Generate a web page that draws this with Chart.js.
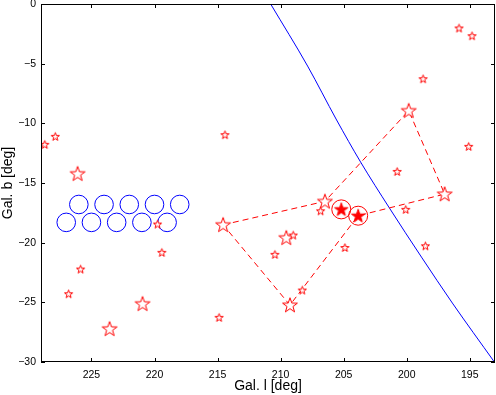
<!DOCTYPE html>
<html>
<head>
<meta charset="utf-8">
<script src="https://cdn.jsdelivr.net/npm/chart.js@4"></script>
<style>
  html, body { margin: 0; padding: 0; background: #fff; }
  #wrap { width: 496px; height: 395px; }
</style>
</head>
<body>
<div id="wrap"><canvas id="sky"></canvas></div>
<script>
// axis ticks
const xTicks = [225, 220, 215, 210, 205, 200, 195];
const yTicks = [-30, -25, -20, -15, -10, -5, 0];

// small stars
const smallL = [228.7, 227.87, 214.41, 195.85, 194.82, 198.7, 195.09, 200.76, 200.08, 198.52,
                206.83, 204.9, 209.0, 210.45, 208.28, 219.76, 219.42, 225.86, 226.81, 214.88];
const smallB = [-11.76, -11.09, -10.95, -2.01, -2.66, -6.26, -11.93, -14.03, -17.21, -20.26,
                -17.33, -20.4, -19.36, -20.98, -23.97, -18.44, -20.81, -22.21, -24.28, -26.26];

// big open stars
const bigL = [226.1, 199.84, 196.99, 214.56, 206.49, 209.55, 209.26, 220.95, 223.56];
const bigB = [-14.22, -8.94, -15.93, -18.5, -16.54, -19.59, -25.23, -25.12, -27.22];

// filled stars (circled)
const mainL = [205.19, 203.85];
const mainB = [-17.21, -17.74];

// dashed outline, closed
const outlineL = [214.56, 206.49, 199.84, 196.99, 203.85, 209.26, 214.56];
const outlineB = [-18.5, -16.54, -8.94, -15.93, -17.74, -25.23, -18.5];

// blue circles (two rows)
const ringL = [226, 224, 222, 220, 218, 227, 225, 223, 221, 219];
const ringB = [-16.8, -16.8, -16.8, -16.8, -16.8, -18.3, -18.3, -18.3, -18.3, -18.3];

// blue curve
const curveL = [210.79, 207.86, 205.56, 203.66, 201.37, 198.83, 196.38, 193.05];
const curveB = [0, -5.2, -9.72, -13.24, -17.1, -21.21, -25.06, -30];

const pts = (ls, bs) => ls.map((l, i) => ({ x: l, y: bs[i] }));

function makeStar(r, filled) {
    const pad = 2;
    const size = Math.ceil(2 * r + 2 * pad);
    const c = document.createElement('canvas');
    c.width = size;
    c.height = size;
    const g = c.getContext('2d');
    g.beginPath();
    for (let i = 0; i < 10; i++) {
        const rad = i % 2 === 0 ? r : r * 0.4;
        const a = -Math.PI / 2 + i * Math.PI / 5;
        g.lineTo(size / 2 + rad * Math.cos(a), size / 2 + 0.5 + rad * Math.sin(a));
    }
    g.closePath();
    g.fillStyle = filled ? '#ff0000' : '#ffffff';
    g.fill();
    g.strokeStyle = '#ff0000';
    g.lineWidth = 1;
    g.stroke();
    return c;
}

const smallStar = makeStar(4.3, false);
const bigStar = makeStar(7.8, false);
const fullStar = makeStar(7, true);

// MATLAB style frame with inward ticks on all sides
const frame = {
    id: 'frame',
    afterDraw(chart) {
        const { ctx, chartArea: a, scales } = chart;
        ctx.save();
        ctx.strokeStyle = '#000';
        ctx.lineWidth = 1;
        ctx.strokeRect(a.left + 0.5, a.top + 0.5, a.right - a.left - 1, a.bottom - a.top - 1);
        ctx.beginPath();
        xTicks.forEach(v => {
            const px = Math.round(scales.x.getPixelForValue(v)) + 0.5;
            ctx.moveTo(px, a.bottom); ctx.lineTo(px, a.bottom - 4);
            ctx.moveTo(px, a.top); ctx.lineTo(px, a.top + 4);
        });
        yTicks.forEach(v => {
            const py = Math.round(scales.y.getPixelForValue(v)) + 0.5;
            ctx.moveTo(a.left, py); ctx.lineTo(a.left + 4, py);
            ctx.moveTo(a.right, py); ctx.lineTo(a.right - 4, py);
        });
        ctx.stroke();
        ctx.restore();
    }
};

Chart.defaults.font.family = '"Liberation Sans", Arial, sans-serif';
Chart.defaults.color = '#000';

new Chart(document.getElementById('sky'), {
    type: 'scatter',
    data: {
        datasets: [
            {
                data: pts(mainL, mainB),
                pointStyle: fullStar,
                pointRadius: 7
            },
            {
                data: pts(mainL, mainB),
                pointStyle: 'circle',
                pointRadius: 9.5,
                borderColor: '#ff0000',
                backgroundColor: 'rgba(0,0,0,0)',
                borderWidth: 1
            },
            {
                data: pts(smallL, smallB),
                pointStyle: smallStar,
                pointRadius: 5
            },
            {
                data: pts(bigL, bigB),
                pointStyle: bigStar,
                pointRadius: 8
            },
            {
                data: pts(ringL, ringB),
                pointStyle: 'circle',
                pointRadius: 9.3,
                borderColor: '#0000ff',
                backgroundColor: 'rgba(0,0,0,0)',
                borderWidth: 1
            },
            {
                data: pts(outlineL, outlineB),
                showLine: true,
                pointRadius: 0,
                borderColor: '#ff0000',
                borderWidth: 1,
                borderDash: [6, 4]
            },
            {
                data: pts(curveL, curveB),
                showLine: true,
                pointRadius: 0,
                cubicInterpolationMode: 'monotone',
                borderColor: '#0000ff',
                borderWidth: 1
            }
        ]
    },
    options: {
        responsive: true,
        maintainAspectRatio: false,
        animation: false,
        layout: { autoPadding: false, padding: { top: 4, right: 1 } },
        plugins: { legend: { display: false }, tooltip: { enabled: false } },
        scales: {
            x: {
                type: 'linear',
                reverse: true,
                min: 193,
                max: 229,
                afterBuildTicks: s => { s.ticks = xTicks.map(v => ({ value: v })); },
                afterFit: s => { s.height = 33; s.paddingLeft = 0; s.paddingRight = 0; },
                grid: { display: false, drawTicks: false },
                border: { display: false },
                ticks: { padding: 7, font: { size: 10.5 }, maxRotation: 0 },
                title: { display: true, text: 'Gal. l [deg]', font: { size: 14 }, padding: { top: 0, bottom: 0 } }
            },
            y: {
                min: -30,
                max: 0,
                afterBuildTicks: s => { s.ticks = yTicks.map(v => ({ value: v })); },
                afterFit: s => { s.width = 41; s.paddingTop = 0; s.paddingBottom = 0; },
                grid: { display: false, drawTicks: false },
                border: { display: false },
                ticks: {
                    padding: 5,
                    font: { size: 10.5 },
                    callback: v => String(v).replace('-', '\u2212')
                },
                title: { display: true, text: 'Gal. b [deg]', font: { size: 14 }, padding: 0 }
            }
        }
    },
    plugins: [frame]
});
</script>
</body>
</html>
